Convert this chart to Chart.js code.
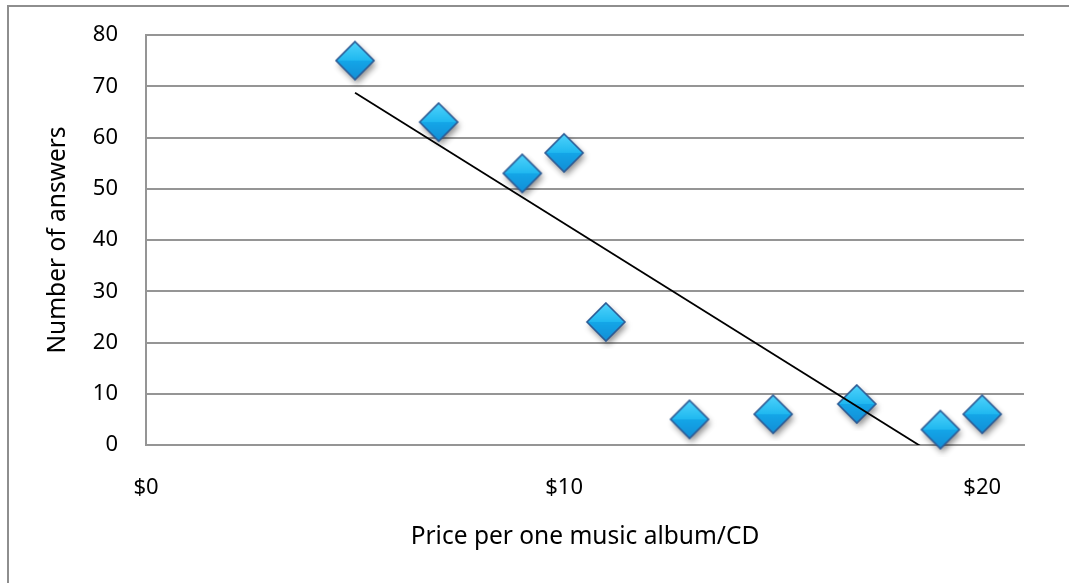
<!DOCTYPE html>
<html>
<head>
<meta charset="utf-8">
<script src="https://cdn.jsdelivr.net/npm/chart.js@4/dist/chart.umd.min.js"></script>
<style>
    html, body { margin: 0; padding: 0; background: #ffffff; overflow: hidden; }
    .frame { position: absolute; left: 7px; top: 5px; width: 1100px; height: 620px; border: 2px solid #8e8e8e; }
    .chart-box { position: absolute; left: 0; top: 0; width: 1069px; height: 583px; }
</style>
</head>
<body>
<div class="frame"></div>
<div class="chart-box"><canvas id="priceChart" width="1069" height="583"></canvas></div>
<script>
// price per album (dollars) and how many people picked it
const prices = [5, 7, 9, 10, 11, 13, 15, 17, 19, 20];
const answers = [75, 63, 53, 57, 24, 5, 6, 8, 3, 6];
const yTicks = [0, 10, 20, 30, 40, 50, 60, 70, 80];
const xTickLabels = ['$0', '$10', '$20'];

const TICK_FONT = { family: '"Noto Sans", sans-serif', size: 22 };
const TITLE_FONT = { family: '"Noto Sans", sans-serif', size: 24.5 };
const GRID = '#959595';

// least squares fit for the trend line
function linearFit(xs, ys) {
    const n = xs.length;
    const mx = xs.reduce((a, b) => a + b, 0) / n;
    const my = ys.reduce((a, b) => a + b, 0) / n;
    let sxy = 0, sxx = 0;
    for (let i = 0; i < n; i++) {
        sxy += (xs[i] - mx) * (ys[i] - my);
        sxx += (xs[i] - mx) * (xs[i] - mx);
    }
    const slope = sxy / sxx;
    return { slope, intercept: my - slope * mx };
}

const fit = linearFit(prices, answers);
const xMin = Math.min(...prices), xMax = Math.max(...prices);
const trendPoints = [
    { x: xMin, y: fit.intercept + fit.slope * xMin },
    { x: xMax, y: fit.intercept + fit.slope * xMax }
];

// bevelled blue diamond used as the marker image
function makeDiamond(r) {
    const size = 2 * r + 16;
    const c = document.createElement('canvas');
    c.width = size; c.height = size;
    const ctx = c.getContext('2d');
    const cx = size / 2, cy = size / 2;
    const path = () => {
        ctx.beginPath();
        ctx.moveTo(cx, cy - r);
        ctx.lineTo(cx + r, cy);
        ctx.lineTo(cx, cy + r);
        ctx.lineTo(cx - r, cy);
        ctx.closePath();
    };

    ctx.save();
    ctx.shadowColor = 'rgba(0,0,0,0.45)';
    ctx.shadowBlur = 6;
    ctx.shadowOffsetX = 2;
    ctx.shadowOffsetY = 4;
    path();
    ctx.fillStyle = '#1ea8e8';
    ctx.fill();
    ctx.restore();

    const facet = (pts, fill) => {
        ctx.beginPath();
        ctx.moveTo(pts[0][0], pts[0][1]);
        for (let i = 1; i < pts.length; i++) ctx.lineTo(pts[i][0], pts[i][1]);
        ctx.closePath();
        ctx.fillStyle = fill;
        ctx.fill();
    };
    const top = [cx, cy - r], right = [cx + r, cy], bottom = [cx, cy + r], left = [cx - r, cy], mid = [cx, cy];

    const upper = ctx.createLinearGradient(0, cy - r, 0, cy);
    upper.addColorStop(0, '#4fd3fb');
    upper.addColorStop(1, '#1fb8f0');
    const lower = ctx.createLinearGradient(0, cy, 0, cy + r);
    lower.addColorStop(0, '#14a6e8');
    lower.addColorStop(1, '#128ed6');

    facet([top, left, mid], upper);
    facet([top, right, mid], upper);
    facet([left, bottom, mid], lower);
    facet([right, bottom, mid], lower);

    path();
    ctx.strokeStyle = '#2c5a94';
    ctx.lineWidth = 1.6;
    ctx.stroke();
    return c;
}

const diamond = makeDiamond(19);

// keep the plot box fixed: no extra room for tick label overhang
function noOverhang(scale) {
    scale.paddingTop = 0;
    scale.paddingBottom = 0;
    scale.paddingLeft = 0;
    scale.paddingRight = 0;
}

new Chart(document.getElementById('priceChart'), {
    type: 'scatter',
    data: {
        datasets: [
            {
                label: 'Trend',
                type: 'line',
                data: trendPoints,
                borderColor: '#000000',
                borderWidth: 1.8,
                pointRadius: 0,
                fill: false,
                clip: 0,
                order: 0
            },
            {
                label: 'Answers',
                data: prices.map((p, i) => ({ x: p, y: answers[i] })),
                pointStyle: diamond,
                pointRadius: 19,
                clip: false,
                order: 1
            }
        ]
    },
    options: {
        responsive: false,
        animation: false,
        events: [],
        layout: { padding: { left: 0, top: 35, right: 45, bottom: 0 } },
        plugins: { legend: { display: false }, tooltip: { enabled: false } },
        scales: {
            x: {
                type: 'linear',
                min: 0, max: 21,
                afterFit: (scale) => { scale.height = 138; noOverhang(scale); },
                afterBuildTicks: (scale) => {
                    scale.ticks = xTickLabels.map((_, i) => ({ value: i * 10 }));
                },
                ticks: {
                    color: '#000000', font: TICK_FONT, padding: 30, maxRotation: 0,
                    callback: (v) => xTickLabels[v / 10]
                },
                grid: { display: false, drawTicks: false },
                border: { display: true, color: GRID, width: 2 },
                title: {
                    display: true, text: 'Price per one music album/CD',
                    color: '#000000', font: TITLE_FONT, padding: { top: 0, bottom: 31 }
                }
            },
            y: {
                min: 0, max: 80,
                afterFit: (scale) => { scale.width = 146; noOverhang(scale); },
                afterBuildTicks: (scale) => {
                    scale.ticks = yTicks.map(v => ({ value: v }));
                },
                ticks: { color: '#000000', font: TICK_FONT, padding: 28 },
                grid: { color: GRID, lineWidth: 2, drawTicks: false },
                border: { display: true, color: GRID, width: 2 },
                title: {
                    display: true, text: 'Number of answers',
                    color: '#000000', font: TITLE_FONT, padding: { top: 43, bottom: 0 }
                }
            }
        }
    }
});
</script>
</body>
</html>
